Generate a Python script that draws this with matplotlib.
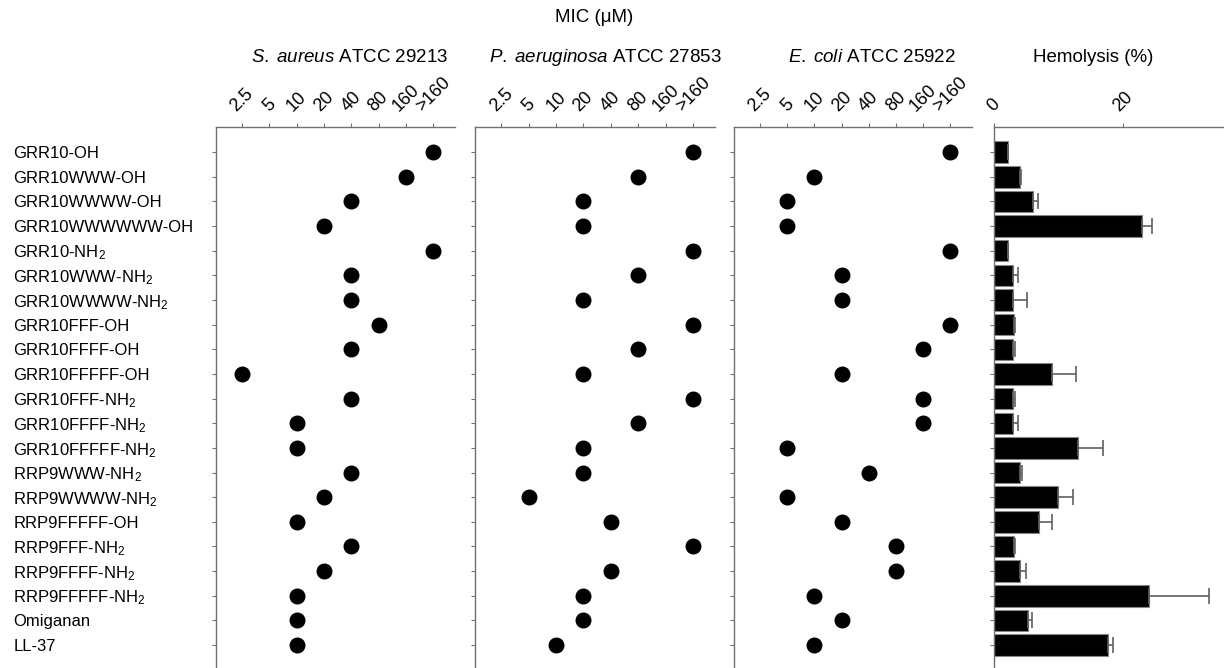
import numpy as np
import matplotlib.pyplot as plt

plt.rcParams['font.family'] = ['Liberation Sans', 'DejaVu Sans']
plt.rcParams['mathtext.fontset'] = 'custom'
plt.rcParams['mathtext.rm'] = 'Liberation Sans'
plt.rcParams['mathtext.it'] = 'Liberation Sans:italic'

# --- data ---
peptides = ['GRR10-OH', 'GRR10WWW-OH', 'GRR10WWWW-OH', 'GRR10WWWWWW-OH',
            'GRR10-NH$_2$', 'GRR10WWW-NH$_2$', 'GRR10WWWW-NH$_2$',
            'GRR10FFF-OH', 'GRR10FFFF-OH', 'GRR10FFFFF-OH',
            'GRR10FFF-NH$_2$', 'GRR10FFFF-NH$_2$', 'GRR10FFFFF-NH$_2$',
            'RRP9WWW-NH$_2$', 'RRP9WWWW-NH$_2$', 'RRP9FFFFF-OH',
            'RRP9FFF-NH$_2$', 'RRP9FFFF-NH$_2$', 'RRP9FFFFF-NH$_2$',
            'Omiganan', 'LL-37']
mic_levels = ['2.5', '5', '10', '20', '40', '80', '160', '>160']

mic_saureus = ['>160', '160', '40', '20', '>160', '40', '40', '80', '40', '2.5',
               '40', '10', '10', '40', '20', '10', '40', '20', '10', '10', '10']
mic_paeru = ['>160', '80', '20', '20', '>160', '80', '20', '>160', '80', '20',
             '>160', '80', '20', '20', '5', '40', '>160', '40', '20', '20', '10']
mic_ecoli = ['>160', '10', '5', '5', '>160', '20', '20', '>160', '160', '20',
             '160', '160', '5', '40', '5', '20', '80', '80', '10', '20', '10']

hemolysis = [2.1, 4.0, 6.0, 23.0, 2.1, 3.0, 3.0, 3.1, 3.0, 9.0, 3.0,
             3.0, 13.0, 4.0, 10.0, 7.0, 3.1, 4.0, 24.0, 5.2, 17.7]
hemolysis_err = [0.1, 0.2, 0.9, 1.45, 0.1, 0.7, 2.1, 0.1, 0.3, 3.7, 0.25,
                 0.75, 3.95, 0.4, 2.3, 2.0, 0.1, 1.0, 9.3, 0.7, 0.7]

panel_titles = [r'$\mathit{S.\;aureus}$ ATCC 29213',
                r'$\mathit{P.\;aeruginosa}$ ATCC 27853',
                r'$\mathit{E.\;coli}$ ATCC 25922']
title_x = [350, 605, 872]  # title centres in pixels

W, H = 1224, 668
fig = plt.figure(figsize=(W / 100, H / 100), dpi=100)

spine_col = '#707070'
top_px, bot_px = 127, 668
y = np.arange(len(peptides))

def px_axes(x0, x1):
    return fig.add_axes([x0 / W, 1 - bot_px / H, (x1 - x0) / W, (bot_px - top_px) / H])

def style(ax):
    for s in ['right', 'bottom']:
        ax.spines[s].set_visible(False)
    for s in ['left', 'top']:
        ax.spines[s].set_color(spine_col)
        ax.spines[s].set_linewidth(1.0)
    ax.xaxis.tick_top()
    ax.tick_params(axis='both', colors=spine_col, length=3, width=0.8, labelcolor='black',
                   labelsize=13)
    ax.set_ylim(20.93, -1.02)
    ax.set_yticks(y)

panels = [(216, 455, mic_saureus), (475, 715, mic_paeru), (734, 972, mic_ecoli)]
for i, (x0, x1, vals) in enumerate(panels):
    ax = px_axes(x0, x1)
    style(ax)
    xs = [mic_levels.index(v) for v in vals]
    ax.scatter(xs, y, s=110, color='black', zorder=3)
    ax.set_xlim(-0.96, 7.8)
    ax.set_xticks(range(len(mic_levels)))
    ax.set_xticklabels(mic_levels, rotation=45, ha='center', va='bottom')
    ax.tick_params(axis='x', pad=6)
    if i == 0:
        ax.set_yticklabels(peptides, ha='left', fontsize=12)
        ax.tick_params(axis='y', pad=143)
    else:
        ax.set_yticklabels([])
    fig.text(title_x[i] / W, 1 - 58 / H, panel_titles[i], ha='center', va='center',
             fontsize=13.5)

# hemolysis panel
ax = px_axes(994, 1224)
style(ax)
ax.barh(y, hemolysis, height=0.87, color='black', edgecolor='#888888', linewidth=0.8,
        xerr=[np.zeros(len(hemolysis)), hemolysis_err],
        error_kw=dict(ecolor='#606060', elinewidth=1.2, capsize=6, capthick=1.2))
ax.set_xlim(0, 35.7)
ax.set_xticks([0, 20])
ax.set_xticklabels(['0', '20'], rotation=45, ha='center', va='bottom')
ax.tick_params(axis='x', pad=6)
ax.set_yticklabels([])
fig.text(1093 / W, 1 - 58 / H, 'Hemolysis (%)', ha='center', va='center', fontsize=13.5)

fig.text(594 / W, 1 - 18 / H, 'MIC (μM)', ha='center', va='center', fontsize=13.5)

fig.savefig('out.png', dpi=100)
